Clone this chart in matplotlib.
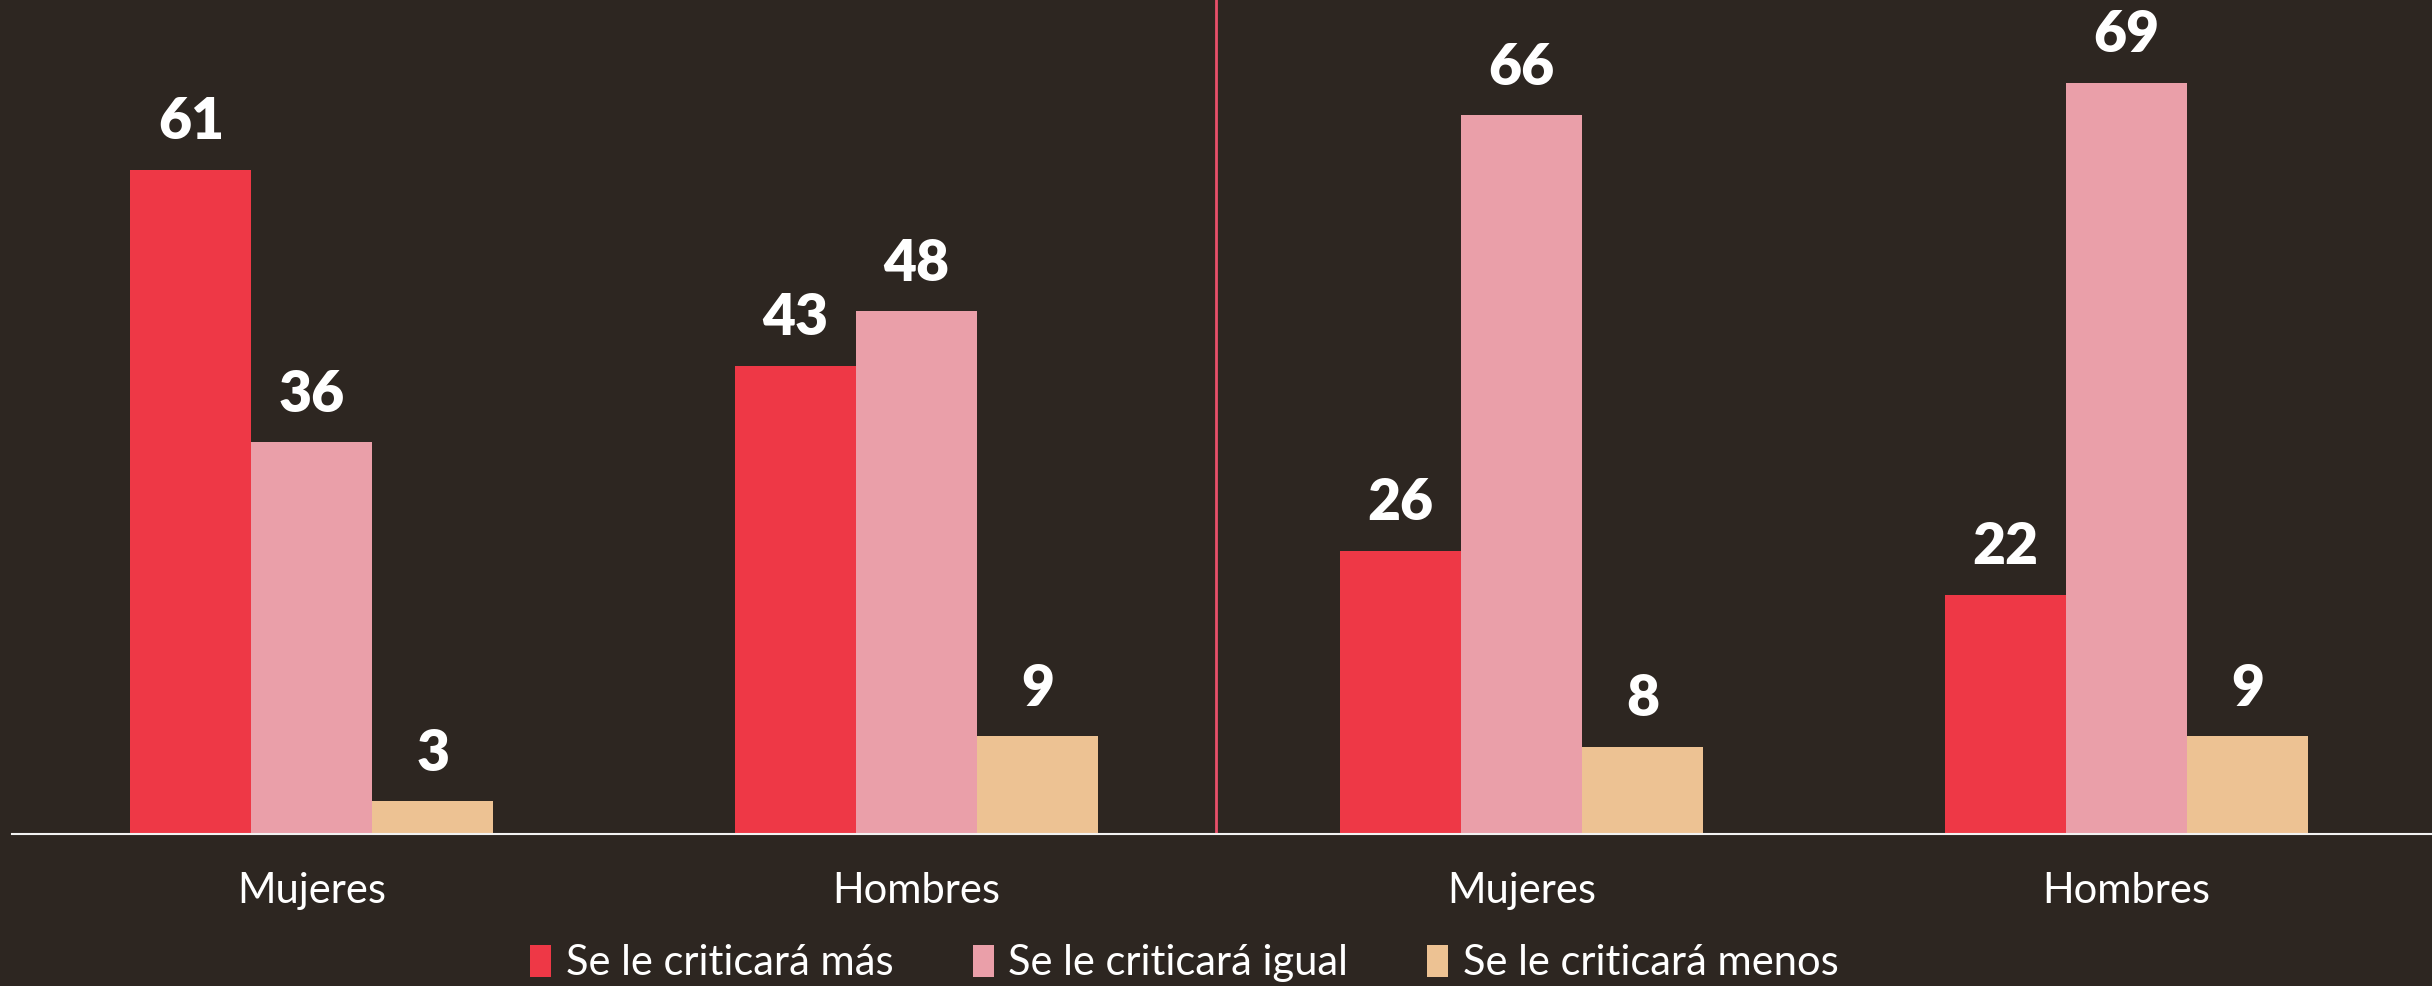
import numpy as np
import matplotlib
matplotlib.use('agg')
import matplotlib.pyplot as plt
from matplotlib.patches import Patch

# data
groups = ['Mujeres', 'Hombres', 'Mujeres', 'Hombres']
series = ['Se le criticará más', 'Se le criticará igual', 'Se le criticará menos']
mas = [61, 43, 26, 22]
igual = [36, 48, 66, 69]
menos = [3, 9, 8, 9]

bg = '#2d2621'
cols = ['#ee3846', '#ea9fa9', '#edc293']
fam = ['Lato', 'DejaVu Sans']

fig = plt.figure(figsize=(24.32, 9.86), dpi=100, facecolor=bg)
ax = fig.add_axes([8 / 1568, 1 - 538 / 636, 1 - 8 / 1568, 538 / 636])
ax.set_facecolor(bg)

x = np.arange(len(groups))
w = 0.2
for i, (vals, c) in enumerate(zip([mas, igual, menos], cols)):
    bars = ax.bar(x + (i - 1) * w, vals, width=w, color=c, zorder=2)
    for b, v in zip(bars, vals):
        ax.annotate(str(v), (b.get_x() + b.get_width() / 2, b.get_height()),
                    xytext=(0, 22), textcoords='offset points', ha='center', va='baseline',
                    fontsize=41, fontweight='heavy', color='white', family=fam)

ax.set_xlim(-0.495, 3.505)
ax.set_ylim(0, 76.6)

# divider between the two panels
ax.axvline(1.495, color='#e8506a', lw=2, zorder=1)

for s in ['top', 'right', 'left']:
    ax.spines[s].set_visible(False)
ax.spines['bottom'].set_color('#f2f2f2')
ax.spines['bottom'].set_linewidth(1.5)
ax.set_yticks([])
ax.set_xticks(x)
ax.set_xticklabels(groups, fontsize=30, color='white', family=fam)
ax.tick_params(axis='x', length=0, pad=27)

handles = [Patch(facecolor=c, label=s) for c, s in zip(cols, series)]
leg = fig.legend(handles=handles, loc='center', bbox_to_anchor=(0.487, 0.023), ncol=3,
                 frameon=False, handlelength=0.5, handleheight=0.8, handletextpad=0.35,
                 columnspacing=1.9, prop={'family': fam, 'size': 30})
for t in leg.get_texts():
    t.set_color('white')

fig.savefig('out.png', dpi=100, facecolor=bg)
